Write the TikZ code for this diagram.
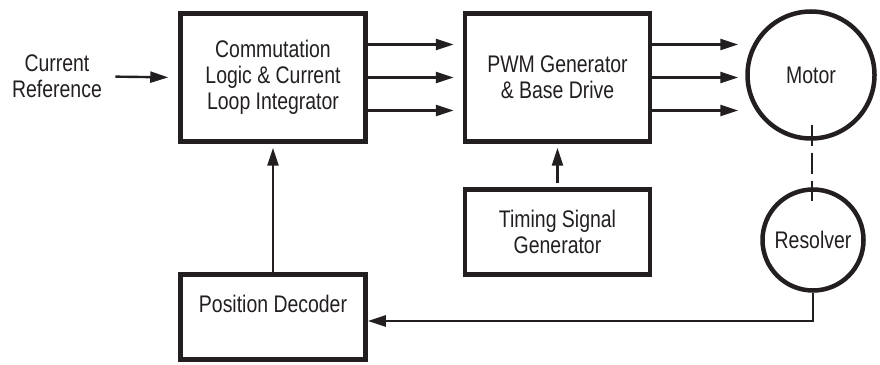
\documentclass[tikz,border=0pt]{standalone}
\usepackage{fontspec}
\setmainfont{Liberation Sans}[FakeStretch=0.81]
\usetikzlibrary{positioning,calc,arrows.meta}
\definecolor{ink}{RGB}{35,31,32}

\begin{document}
\begin{tikzpicture}[x=1pt,y=1pt,
	ink/.style={draw=ink,text=ink},
	blk/.style={ink,line width=4.5pt,minimum width=185pt,align=center,
		font=\fontsize{24}{26}\selectfont},
	rnd/.style={ink,circle,line width=4.5pt,font=\fontsize{24}{26}\selectfont},
	sig/.style={draw=ink,line width=2.4pt,-{Triangle[length=18pt,width=11pt]}}]
	\useasboundingbox (0,0) rectangle (880,364);
%			blocks
	\node[blk,minimum height=128pt] (comm) at (273,286.5) {Commutation\\Logic \& Current\\Loop Integrator};
	\node[blk,minimum height=128pt] (pwm) at (557.5,286.5) {PWM Generator\\\& Base Drive};
	\node[blk,minimum height=85pt] (timing) at (557.5,132) {Timing Signal\\Generator};
	\node[blk,minimum height=85pt] (posdec) at (273,47) {Position Decoder\\~};
	\node[rnd,minimum size=127pt] (motor) at (811,289) {Motor};
	\node[rnd,minimum size=101pt] (resolver) at (813,124) {Resolver};
	\node[align=center,text=ink,font=\fontsize{24}{26}\selectfont] (ref) at (57,287.5) {Current\\Reference};

	\draw[sig,shorten <=10pt,shorten >=10pt] (ref.east) -- (comm.west);
	\foreach \dy in {33,0,-33}
	{
		\draw[sig,shorten >=9pt] ([yshift=\dy pt]comm.east) -- ([yshift=\dy pt]pwm.west);
		\draw[sig,shorten >=7pt] ([yshift=\dy pt]pwm.east) -- ([yshift=\dy pt]pwm.east -| motor.west);
	}
	\draw[sig,shorten <=4pt,shorten >=4pt] (timing.north) -- (pwm.south);
	\draw[sig,shorten >=4pt] (posdec.north) -- (comm.south);
	\draw[sig] (resolver.south) |- ([yshift=-4pt]posdec.east);

	\draw[ink,line width=2.4pt,dash pattern=on 21pt off 7pt]
		($(motor.south)+(1,16)$) -- ($(resolver.north)+(-1,-14)$);
\end{tikzpicture}
\end{document}
